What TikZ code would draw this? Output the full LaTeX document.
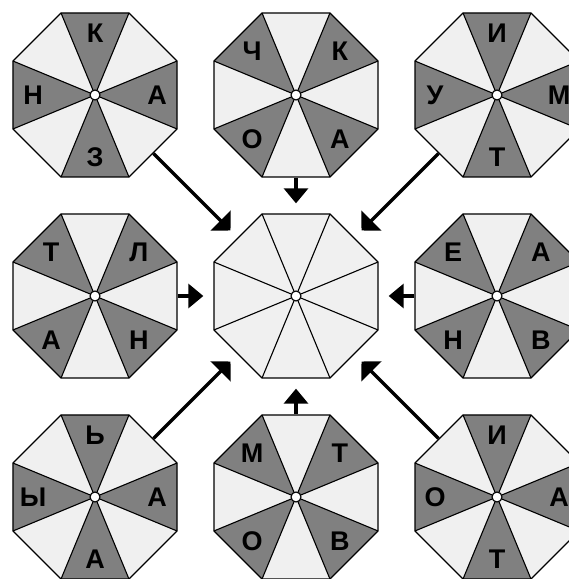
\documentclass[tikz,border=0pt]{standalone}
\usepackage{fontspec}
\setmainfont{Liberation Sans}
\usetikzlibrary{arrows.meta,shapes.geometric}
\definecolor{dk}{gray}{0.5}
\definecolor{lt}{gray}{0.94}
\newcommand\Rad{88.76}
\newcommand\umbr[4]{%
  \coordinate (#1) at #2;
  \begin{scope}[shift={(#1)}]
    \fill[lt] (22.5:\Rad) -- (67.5:\Rad) -- (112.5:\Rad) -- (157.5:\Rad) -- (202.5:\Rad) -- (247.5:\Rad) -- (292.5:\Rad) -- (337.5:\Rad) -- cycle;
    \foreach \a in {#3} { \fill[dk] (0,0) -- (\a-22.5:\Rad) -- (\a+22.5:\Rad) -- cycle; }
    \foreach \a in {22.5,67.5,...,337.5} { \draw[spoke] (0,0) -- (\a:\Rad); }
    \foreach \a/\l [count=\i] in {#4} { \node[letter] (#1l\i) at (\a:62) {\l}; }
  \end{scope}
  \node[octa] (#1o) at (#1) {};
  \node[hub] (#1h) at (#1) {};
}
\begin{document}
\begin{tikzpicture}[x=1pt,y=1pt,
  spoke/.style={draw=black, line width=1.1pt},
  octa/.style={regular polygon, regular polygon sides=8, minimum size=177.5pt, inner sep=0pt, draw=black, line width=1.3pt, line join=round},
  letter/.style={font=\fontsize{27pt}{27pt}\selectfont\bfseries, text height=19.3pt, text depth=0pt, inner sep=0pt, text=black},
  hub/.style={circle, draw=black, fill=white, line width=1.1pt, minimum size=10pt, inner sep=0pt},
  link/.style={line width=3.2pt, shorten >=10pt},
  straighthead/.style={-{Triangle[length=15pt,width=24pt]}},
  diaghead/.style={-{Triangle[length=14pt,width=28pt]}}
]
\clip (0,0) rectangle (569,579);
\fill[white] (0,0) rectangle (569,579);

\umbr{tl}{(95,484)}{0,90,180,270}{90/К,0/А,270/З,180/Н}
\umbr{tm}{(296,484)}{45,135,225,315}{135/Ч,45/К,225/О,315/А}
\umbr{tr}{(497,484)}{0,90,180,270}{90/И,0/М,270/Т,180/У}
\umbr{ml}{(95,283)}{45,135,225,315}{135/Т,45/Л,225/А,315/Н}
\umbr{mr}{(497,283)}{45,135,225,315}{135/Е,45/А,225/Н,315/В}
\umbr{bl}{(95,82)}{0,90,180,270}{90/Ь,180/Ы,0/А,270/А}
\umbr{bm}{(296,82)}{45,135,225,315}{135/М,45/Т,225/О,315/В}
\umbr{br}{(497,82)}{0,90,180,270}{90/И,180/О,0/А,270/Т}

% centre
\coordinate (mc) at (296,283);
\begin{scope}[shift={(mc)}]
  \fill[lt] (22.5:\Rad) -- (67.5:\Rad) -- (112.5:\Rad) -- (157.5:\Rad) -- (202.5:\Rad) -- (247.5:\Rad) -- (292.5:\Rad) -- (337.5:\Rad) -- cycle;
  \foreach \a in {22.5,67.5,...,337.5} { \draw[spoke] (0,0) -- (\a:\Rad); }
\end{scope}
\node[octa] (mco) at (mc) {};
\node[hub] (mch) at (mc) {};

% connectors
\draw[link,diaghead] (tlo) -- (mco);
\draw[link,diaghead] (tro) -- (mco);
\draw[link,diaghead] (blo) -- (mco);
\draw[link,diaghead] (bro) -- (mco);
\draw[link,straighthead] (tmo) -- (mco);
\draw[link,straighthead] (bmo) -- (mco);
\draw[link,straighthead] (mlo) -- (mco);
\draw[link,straighthead] (mro) -- (mco);
\end{tikzpicture}
\end{document}
